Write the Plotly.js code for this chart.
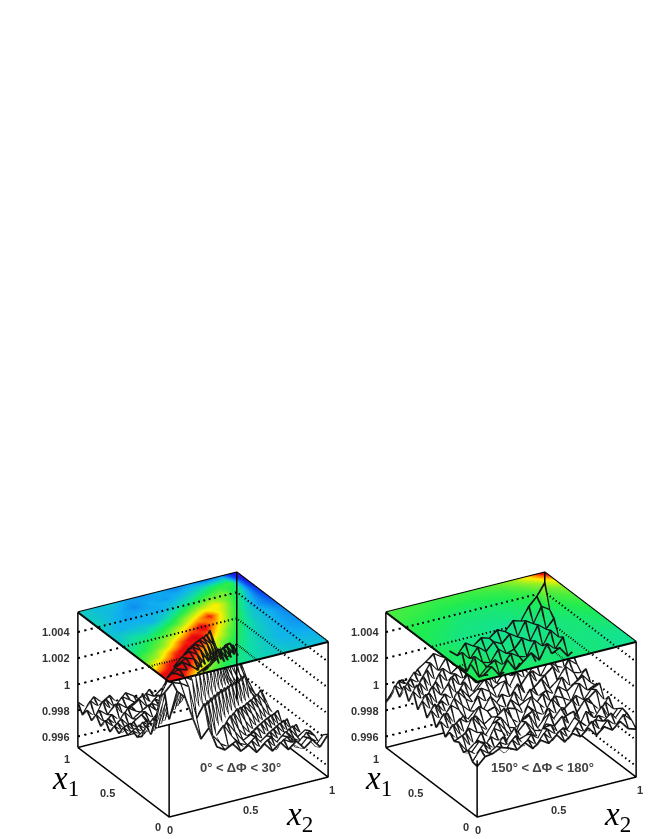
<!DOCTYPE html>
<html><head><meta charset="utf-8">
<script src="https://cdn.plot.ly/plotly-3.0.1.min.js"></script>
<style>html,body{margin:0;padding:0;background:#fff}</style></head>
<body><div id="chart" style="width:653px;height:839px"></div>
<script>
// All surface values are (z - 1) in units of 1e-4.
const meshStep = 0.05, planeStep = 0.1;
const zTicks = [1.004, 1.002, 1, 0.998, 0.996];
const zTickLabels = ["1.004", "1.002", "1", "0.998", "0.996"];
const xyTicks = [0, 0.5, 1];
const xyTickLabels = ["0", "0.5", "1"];
const zRange = [0.99516, 1.00552];

const meshNear = [
[26,46,40,22,5,12,-4,-8,-5,-12,-9,-16,-11,-18,-13,-20,-15,-22,-17,-24,-16],
[44,50,48,44,18,28,2,-6,-10,-7,-14,-10,-17,-12,-21,-15,-19,-24,-18,-26,-19],
[38,49,53,49,45,14,26,-3,4,-6,-13,-16,-11,-19,-14,-22,-17,-26,-20,-23,-28],
[16,42,50,52,50,44,12,24,-5,2,-7,-15,-12,-20,-16,-24,-19,-22,-29,-21,-25],
[4,24,44,50,53,49,44,10,22,-6,3,-9,-16,-14,-22,-17,-25,-20,-27,-31,-24],
[8,3,22,42,49,52,50,42,8,20,-8,1,-10,-18,-15,-23,-19,-28,-22,-30,-26],
[-3,6,1,20,44,50,53,49,40,6,18,-9,0,-11,-20,-16,-26,-21,-29,-24,-32],
[-6,-2,5,0,18,40,49,52,48,38,4,15,-11,-3,-12,-22,-18,-27,-23,-33,-27],
[-4,-9,-3,4,-2,16,38,48,50,46,34,3,12,-12,-6,-14,-24,-20,-30,-25,-35],
[-10,-6,-12,-4,3,-3,14,34,46,49,44,30,1,10,-14,-8,-16,-27,-22,-34,-28],
[-7,-13,-8,-14,-6,2,-5,12,30,44,47,40,24,-2,7,-16,-10,-18,-29,-25,-36],
[-14,-9,-16,-10,-15,-7,0,-6,9,26,38,45,34,16,-4,4,-19,-12,-21,-31,-27],
[-11,-17,-12,-18,-13,-16,-9,-2,-7,6,18,30,44,26,8,-7,2,-21,-14,-23,-33],
[-18,-13,-20,-15,-11,-19,-14,-8,-3,-8,3,12,24,30,16,1,-10,0,-24,-15,-30],
[-12,-19,-14,-21,-17,-13,-20,-15,-10,-14,-7,-2,4,14,22,10,-3,-13,-20,-27,-25],
[-19,-15,-22,-13,-20,-16,-12,-18,-13,-9,-15,-8,-3,2,10,17,7,-6,-16,-23,-31],
[-13,-21,-16,-23,-14,-18,-22,-15,-19,-12,-16,-10,-6,-2,1,9,14,5,-9,-19,-28],
[-20,-14,-19,-12,-24,-17,-13,-21,-16,-20,-13,-17,-11,-7,-4,0,7,11,3,-12,-24],
[-15,-22,-11,-20,-16,-21,-18,-14,-22,-17,-23,-15,-19,-12,-9,-5,-1,6,9,-2,-20],
[-21,-12,-18,-14,-22,-15,-19,-24,-17,-21,-16,-25,-18,-14,-17,-10,-8,-3,5,3,-15],
[-14,-20,-13,-19,-15,-23,-16,-20,-25,-18,-26,-20,-23,-17,-21,-15,-12,-9,-4,-8,-30]];

const meshAway = [
[-10,-4,-3,0,-2,-5,-1,-7,-2,-6,-1,-8,-3,-7,-2,-9,-4,-8,-3,-10,-12],
[-9,-1,-6,-2,-8,0,-7,-3,-9,-1,-8,-2,-10,-3,-8,-1,-10,-3,-9,-2,-8],
[-3,-8,-1,-9,-3,-7,-1,-10,-3,-9,-2,-8,-4,-10,-2,-9,-4,-7,-2,-11,-5],
[-7,-9,-2,-5,-12,-3,-14,-8,-6,-15,-4,-3,-13,-10,-2,-8,-14,-5,-9,-11,-4],
[-2,-11,-6,-13,-4,-9,-10,-2,-12,-7,-16,-5,-8,-2,-13,-15,-3,-10,-2,-14,-7],
[-4,-1,-12,-8,-14,-2,-6,-15,-9,-3,-11,-13,-1,-12,-6,-4,-16,-7,-12,-3,-10],
[0,-8,-3,-15,-6,-12,-1,-9,-16,-5,-2,-14,-7,-10,-3,-14,-9,-1,-6,-13,-3],
[-6,2,-10,-4,-9,-13,-5,-2,-11,-13,-6,-3,-15,-4,-11,-7,-2,-12,-4,1,-9],
[3,-5,-1,-12,0,-8,-14,-4,1,-9,-14,-2,-8,-12,-1,-9,-13,-3,-8,-1,2],
[-4,5,-8,-2,-7,-3,-11,-7,-12,-3,-5,-11,1,-6,-13,-3,-6,-10,2,-5,-2],
[6,-3,1,-11,-4,-10,0,-5,-3,-13,-1,-7,-4,-10,-2,-11,0,-5,-1,4,-3],
[-2,7,-6,3,-2,-12,-6,-8,2,-6,-10,1,-9,0,-7,-4,-9,3,-6,-2,5],
[8,-1,2,-7,4,-3,-9,1,-5,-11,-2,-6,3,-8,-3,2,-7,-2,7,1,-1],
[-1,9,-4,1,-6,5,-2,-7,3,-1,-8,4,-5,-2,6,-4,1,6,-3,8,3],
[10,2,6,-5,2,-4,3,-5,-1,6,-3,0,-6,5,-2,3,-3,7,2,-1,10],
[0,11,-3,7,-2,6,-5,4,-6,1,5,-4,4,-1,8,-3,6,1,9,12,4],
[9,1,8,-1,6,-4,7,-2,6,-3,2,7,-1,9,0,5,10,3,14,8,16],
[-2,7,0,9,-3,8,0,5,-1,9,-2,4,8,2,10,6,4,15,9,20,13],
[4,-2,6,1,10,-1,8,2,7,1,11,5,3,12,7,9,16,12,23,18,25],
[-7,3,-1,7,1,11,3,12,4,13,6,14,9,15,12,18,14,25,21,33,29],
[-14,-6,0,-3,5,9,14,10,13,8,16,12,17,15,20,17,24,22,32,38,47]];

const planeNear = [
[48,42,18,5,-1,-4,-7,-8,-9,-10,-10],
[42,50,40,16,4,-2,-6,-9,-11,-11,-12],
[18,40,50,38,14,3,-4,-8,-12,-13,-14],
[5,16,38,50,36,12,1,-7,-10,-14,-16],
[-1,4,14,36,50,32,10,-3,-9,-13,-17],
[-6,-2,4,12,32,48,26,4,-8,-12,-18],
[-10,-6,-7,0,8,26,42,16,-3,-15,-22],
[-9,-13,-11,-13,-5,5,18,26,6,-11,-26],
[-6,-11,-15,-12,-14,-8,-2,8,12,-2,-30],
[-8,-10,-13,-17,-13,-15,-11,-6,2,5,-36],
[-7,-11,-9,-14,-16,-13,-18,-15,-20,-16,-40]];

const planeAway = [
[3,2,1,0,1,0,-1,0,-2,-3,-3],
[2,1,0,1,-1,-1,0,-2,-1,-3,-3],
[1,2,0,-1,-2,-1,-2,-1,-2,-2,-2],
[1,0,-1,-2,-1,-3,-2,-1,-1,-1,0],
[2,1,-1,-3,-2,-2,-3,-2,-1,0,1],
[1,0,-2,-1,-3,-4,-2,-1,0,1,3],
[2,1,-1,-2,-2,-2,-1,0,1,3,5],
[3,2,1,-1,-1,-1,0,1,2,5,8],
[4,3,2,1,0,1,1,3,4,8,13],
[6,5,4,3,3,3,4,5,9,15,27],
[7,6,6,5,6,6,7,10,15,29,50]];

const rainbow = [[0,'#5a10c8'],[0.12,'#1a1ae8'],[0.22,'#0a50f0'],[0.33,'#10b0f0'],[0.42,'#10e0a0'],
  [0.49,'#20ec50'],[0.62,'#a0f020'],[0.72,'#fff000'],[0.82,'#ff8000'],[0.9,'#f01010'],[1,'#d00000']];
const colorMin = -45, colorMax = 52;
const aspect = {x:1, y:1, z:0.82};
const eyeDir = {x:-0.448, y:-0.780, z:0.4375};
const eyeScale = 1.8;
const lookAtZ = 0.24;
const wireLift = 0.00003;

const toZ = m => m.map(r => r.map(v => 1 + v * 1e-4));
const axisGrid = (m, step) => m[0].map((_, i) => +(i * step).toFixed(4));
const flat = {ambient:1, diffuse:0, specular:0, roughness:1, fresnel:0};
const noContours = {x:{show:false,highlight:false},y:{show:false,highlight:false},z:{show:false,highlight:false}};

function projectToTop(X, Y, z) {
  const s = (zRange[1] - z) / (zRange[1] - zRange[0]) * aspect.z / eyeDir.z;
  return [X + s * eyeDir.x / aspect.x, Y + s * eyeDir.y / aspect.y];
}
function samplePlane(p, X, Y) {
  const n = p.length - 1, u = Math.min(X * n, n - 1e-6), v = Math.min(Y * n, n - 1e-6);
  const i = Math.floor(v), j = Math.floor(u), a = u - j, b = v - i;
  return (1-a)*(1-b)*p[i][j] + a*(1-b)*p[i][j+1] + (1-a)*b*p[i+1][j] + a*b*p[i+1][j+1];
}
function line3d(pts, width, dash, sceneId, color) {
  return {type:'scatter3d', mode:'lines', scene:sceneId, hoverinfo:'skip', showlegend:false,
    x:pts.map(p=>p[0]), y:pts.map(p=>p[1]), z:pts.map(p=>p[2]),
    line:{color:color||'#000', width, dash:dash||'solid'}};
}
function wireLines(z, mx, my){
  const pts=[];
  z.forEach((r,i)=>{ r.forEach((v,j)=>pts.push([mx[j],my[i],v+wireLift])); pts.push([NaN,NaN,NaN]); });
  mx.forEach((xv,j)=>{ z.forEach((r,i)=>pts.push([xv,my[i],r[j]+wireLift])); pts.push([NaN,NaN,NaN]); });
  return pts;
}
const B = NaN;
const [z0, z1] = zRange;
const bottomEdges = [[0,1,z0],[0,0,z0],[1,0,z0],[1,1,z0],[0,1,z0]];
const frontVertical = zTop => [[0,0,z0],[0,0,zTop]];
const verticals = [[0,1,z0],[0,1,z1],[B,B,B],[1,0,z0],[1,0,z1]];
const backVertical = zEnd => [[1,1,z1],[1,1,zEnd]];
const topEdges = [[0,1,z1],[1,1,z1],[1,0,z1],[0,0,z1],[0,1,z1]];
function dotted(t){ return [[0,1,t],[1,1,t],[1,0,t]]; }
function dottedClipped(t){
  const pts=[];
  for(let k=0;k<=100;k++){const [a,b]=[k/100,1]; const q=projectToTop(a,b,t); if(q[0]>=0&&q[0]<=1&&q[1]>=0&&q[1]<=1)pts.push([a,b,t]);}
  for(let k=99;k>=0;k--){const [a,b]=[1,k/100]; const q=projectToTop(a,b,t); if(q[0]>=0&&q[0]<=1&&q[1]>=0&&q[1]<=1)pts.push([a,b,t]);}
  return pts;
}
const wireColor='#151515', wireWidth=3.5, dotWidth=4, edgeWidth=3, dotStyle='dash';

function panel(mesh, plane, ids, fvTop, bvEnd) {
  const z = toZ(mesh), mx = axisGrid(mesh, meshStep), my = mesh.map((_, i) => +(i*meshStep).toFixed(4));
  const px = axisGrid(plane, planeStep), py = plane.map((_, i) => +(i*planeStep).toFixed(4));
  const t = [];
  zTicks.forEach(v => t.push(line3d(dotted(v), dotWidth, dotStyle, ids[0])));
  t.push(line3d(bottomEdges, edgeWidth, 'solid', ids[0]));
  t.push(line3d(verticals, edgeWidth, 'solid', ids[0]));
  t.push(line3d(frontVertical(fvTop), edgeWidth, 'solid', ids[0]));
  t.push({type:'surface', scene:ids[0], x:mx, y:my, z, showscale:false, hoverinfo:'skip',
    colorscale:[[0,'#fff'],[1,'#fff']], lighting:flat, contours:noContours});
  t.push(line3d(wireLines(z,mx,my), wireWidth, 'solid', ids[0], wireColor));
  t.push({type:'surface', scene:ids[1], x:px, y:py, z:plane.map(r=>r.map(()=>z1)),
    surfacecolor:plane, cmin:colorMin, cmax:colorMax, colorscale:rainbow, showscale:false, hoverinfo:'skip',
    lighting:flat, contours:noContours});
  t.push(line3d(topEdges, 4, 'solid', ids[1]));
  const mz = z.map((r,i)=>r.map((v,j)=>{const q=projectToTop(mx[j],my[i],v);return (q[0]>=0&&q[0]<=1&&q[1]>=0&&q[1]<=1)?v:NaN;}));
  const mc = z.map((r,i)=>r.map((v,j)=>{const q=projectToTop(mx[j],my[i],v);return samplePlane(plane,Math.max(0,Math.min(1,q[0])),Math.max(0,Math.min(1,q[1])));}));
  zTicks.forEach(v => {const d=dottedClipped(v); if(d.length>1)t.push(line3d(d,dotWidth,dotStyle,ids[2]));});
  t.push(line3d(backVertical(bvEnd), edgeWidth, 'solid', ids[2]));
  t.push({type:'surface', scene:ids[2], x:mx, y:my, z:mz, surfacecolor:mc, cmin:colorMin, cmax:colorMax,
    colorscale:rainbow, showscale:false, hoverinfo:'skip', lighting:flat, contours:noContours});
  t.push(line3d(wireLines(mz,mx,my), wireWidth, 'solid', ids[2], wireColor));
  return t;
}

const hiddenAxis = (r,eps) => ({visible:false, range:[r[0]-eps,r[1]+eps], showspikes:false, autorange:false});
const W=653,H=839;
function sceneLayout(cx, halfW, domainTop, annotations){
  return {
    domain:{x:[(cx-halfW)/W,(cx+halfW)/W], y:[0,(H-domainTop)/H]},
    xaxis:hiddenAxis([0,1],0.002), yaxis:hiddenAxis([0,1],0.002), zaxis:hiddenAxis(zRange,0.00002),
    aspectmode:'manual', aspectratio:aspect, bgcolor:'rgba(0,0,0,0)', dragmode:false, hovermode:false,
    camera:{projection:{type:'orthographic'}, up:{x:0,y:0,z:1}, center:{x:0,y:0,z:lookAtZ},
      eye:{x:eyeDir.x*eyeScale,y:eyeDir.y*eyeScale,z:lookAtZ+eyeDir.z*eyeScale}},
    annotations:annotations||[]
  };
}
const tickFont = {family:'Liberation Sans', size:11, color:'#333'};
function tickAnn(x,y,z,text,xs,ys,anchor){
  return {x,y,z,text,showarrow:false,xshift:xs,yshift:ys,xanchor:anchor||'center',yanchor:'middle',font:tickFont};
}
function axisAnnotations(){
  const a=[];
  zTicks.forEach((v,i)=>a.push(tickAnn(0,1,v,'<b>'+zTickLabels[i]+'</b>',-5,0,'right')));
  const x1Shift=[[-11,-10],[-16,-11],[-10,-11]], x2Shift=[[1,-13],[2,-13],[4,-13]];
  xyTicks.forEach((v,i)=>{
    a.push(tickAnn(0,v,z0,'<b>'+xyTickLabels[i]+'</b>',x1Shift[i][0],x1Shift[i][1]));
    a.push(tickAnn(v,0,z0,'<b>'+xyTickLabels[i]+'</b>',x2Shift[i][0],x2Shift[i][1]));
  });
  return a;
}
const cx1=202.5, cx2=511, halfW=140, domainTop=471.4;
const data=[...panel(meshNear,planeNear,['scene','scene2','scene3'],1.0022,0.9958),
            ...panel(meshAway,planeAway,['scene4','scene5','scene6'],0.9995,1.0000)];
const paperText=(x,y,text,font)=>({xref:'paper',yref:'paper',x:x/W,y:1-y/H,text,showarrow:false,xanchor:'center',yanchor:'middle',font});
const titleFont={family:'Liberation Serif',size:33,color:'#000'};
const noteFont={family:'Liberation Sans',size:13,color:'#444'};
const layout={
  width:W,height:H,autosize:false,margin:{l:0,r:0,t:0,b:0},paper_bgcolor:'#fff',showlegend:false,
  scene:sceneLayout(cx1,halfW,domainTop),scene2:sceneLayout(cx1,halfW,domainTop),scene3:sceneLayout(cx1,halfW,domainTop,axisAnnotations()),
  scene4:sceneLayout(cx2,halfW,domainTop),scene5:sceneLayout(cx2,halfW,domainTop),scene6:sceneLayout(cx2,halfW,domainTop,axisAnnotations()),
  annotations:[
    paperText(65,780,'<i>x</i><sub>1</sub>',titleFont),paperText(299,816,'<i>x</i><sub>2</sub>',titleFont),
    paperText(378,780,'<i>x</i><sub>1</sub>',titleFont),paperText(617,816,'<i>x</i><sub>2</sub>',titleFont),
    paperText(240,767,'<b>0° &lt; ΔΦ &lt; 30°</b>',noteFont),paperText(542,767,'<b>150° &lt; ΔΦ &lt; 180°</b>',noteFont)
  ]
};
Plotly.newPlot('chart',data,layout,{displayModeBar:false,scrollZoom:false});
</script></body></html>
